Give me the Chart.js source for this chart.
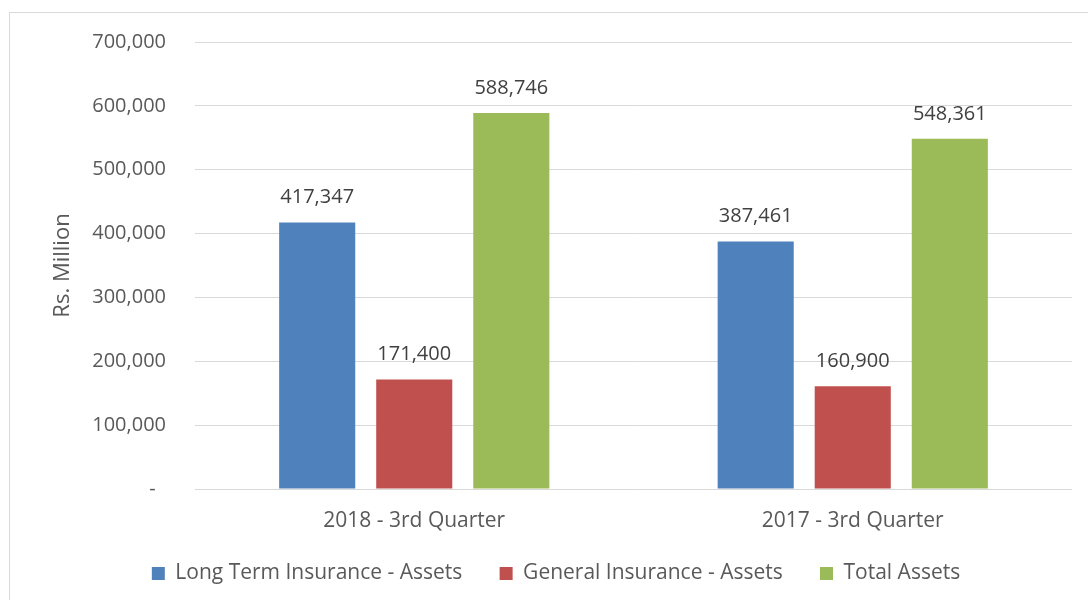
<!DOCTYPE html>
<html>
<head>
<meta charset="utf-8">
<script src="https://cdn.jsdelivr.net/npm/chart.js@4"></script>
<style>
  html, body { margin: 0; padding: 0; background: #fff; }
  #wrap { width: 1088px; height: 600px; position: relative; }
</style>
</head>
<body>
<div id="wrap"><canvas id="chart" width="1088" height="600"></canvas></div>
<script>
  const categories = ['2018 - 3rd Quarter', '2017 - 3rd Quarter'];
  const longTerm = [417347, 387461];
  const general = [171400, 160900];
  const total = [588746, 548361];
  const yTicks = [0, 100000, 200000, 300000, 400000, 500000, 600000, 700000];

  const FONT = '"Open Sans", sans-serif';
  const fmt = (v) => v.toLocaleString('en-US');

  // frame round the chart, like the spreadsheet export
  const framePlugin = {
    id: 'frame',
    beforeDraw(chart) {
      const ctx = chart.ctx;
      ctx.save();
      ctx.fillStyle = '#fff';
      ctx.fillRect(0, 0, chart.width, chart.height);
      ctx.strokeStyle = '#d9d9d9';
      ctx.lineWidth = 1;
      ctx.strokeRect(9.5, 12.5, 1200, 700);
      ctx.restore();
    }
  };

  // value labels above each bar
  const valueLabels = {
    id: 'valueLabels',
    afterDatasetsDraw(chart) {
      const ctx = chart.ctx;
      ctx.save();
      ctx.font = '20px ' + FONT;
      ctx.fillStyle = '#404040';
      ctx.textAlign = 'center';
      ctx.textBaseline = 'middle';
      chart.data.datasets.forEach((ds, i) => {
        chart.getDatasetMeta(i).data.forEach((bar, j) => {
          ctx.fillText(fmt(ds.data[j]), bar.x, bar.y - 25);
        });
      });
      ctx.restore();
    }
  };

  new Chart(document.getElementById('chart'), {
    type: 'bar',
    data: {
      labels: categories,
      datasets: [
        { label: 'Long Term Insurance - Assets', data: longTerm, backgroundColor: '#4F81BD' },
        { label: 'General Insurance - Assets', data: general, backgroundColor: '#C0504D' },
        { label: 'Total Assets', data: total, backgroundColor: '#9BBB59' }
      ]
    },
    options: {
      responsive: false,
      animation: false,
      devicePixelRatio: 1,
      categoryPercentage: 0.664,
      barPercentage: 0.784,
      layout: { padding: { left: 40, right: 16, top: 42, bottom: 6 } },
      plugins: {
        tooltip: { enabled: false },
        legend: {
          position: 'bottom',
          labels: {
            font: { family: FONT, size: 21 },
            color: '#595959',
            boxWidth: 13,
            boxHeight: 13,
            padding: 10,
            generateLabels(chart) {
              const items = Chart.defaults.plugins.legend.labels.generateLabels(chart);
              items.forEach((it, i) => {
                it.lineWidth = 0;
                if (i < items.length - 1) it.text = it.text + '\u00a0\u00a0\u00a0\u00a0\u00a0';
              });
              return items;
            }
          }
        }
      },
      scales: {
        x: {
          grid: { display: false },
          border: { display: false },
          ticks: { font: { family: FONT, size: 21 }, color: '#595959', padding: 11 },
          afterFit(scale) { scale.height = 64; }
        },
        y: {
          min: 0,
          max: 700000,
          afterBuildTicks(scale) { scale.ticks = yTicks.map(v => ({ value: v })); },
          grid: { color: '#d9d9d9', lineWidth: 1, drawTicks: false },
          border: { display: false },
          ticks: {
            font: { family: FONT, size: 20 },
            color: '#595959',
            padding: 29,
            callback: (v) => v === 0 ? '-\u00a0\u00a0' : fmt(v)
          },
          title: {
            display: true,
            text: 'Rs. Million',
            font: { family: FONT, size: 22 },
            color: '#595959',
            padding: { top: 10, bottom: 0 }
          },
          afterFit(scale) { scale.width = 155; }
        }
      }
    },
    plugins: [framePlugin, valueLabels]
  });
</script>
</body>
</html>
